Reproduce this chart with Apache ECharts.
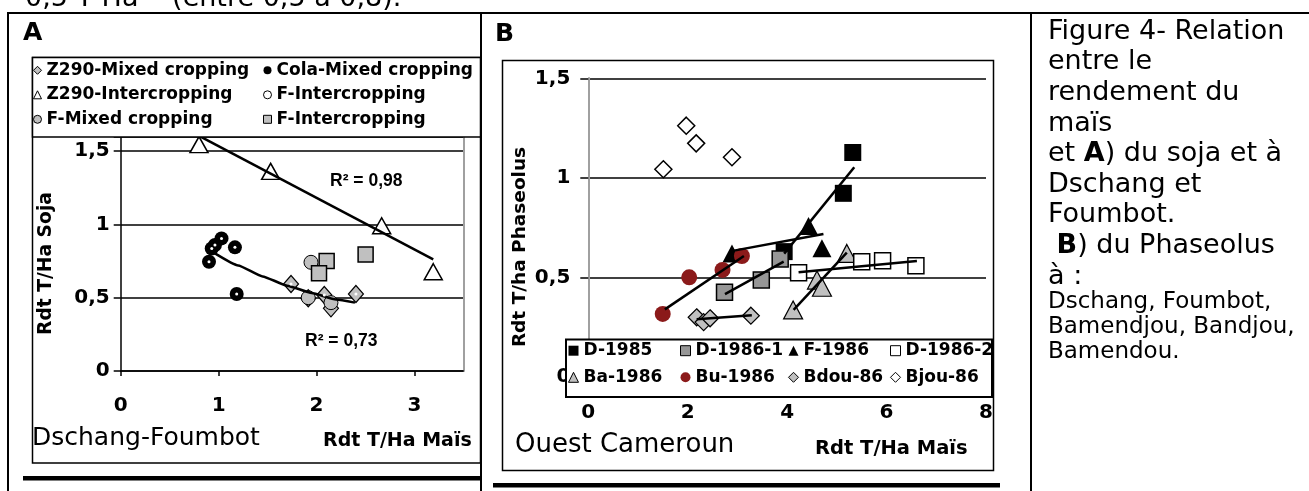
<!DOCTYPE html>
<html><head><meta charset="utf-8">
<script src="https://cdn.jsdelivr.net/npm/echarts@6/dist/echarts.min.js"></script>
<style>html,body{margin:0;padding:0;background:#fff;overflow:hidden}#c{width:1309px;height:491px}</style>
</head><body><div id="c"></div>
<script>
// ---------- Panel A data (Rdt T/Ha Maïs vs Rdt T/Ha Soja) ----------
const aZ290Mixed = [[1.74,0.593],[1.916,0.496],[2.08,0.518],[2.148,0.427],[2.403,0.525]];
const aColaMixed = [[0.902,0.745],[0.93,0.835],[0.963,0.859],[1.03,0.904],[1.167,0.843],[1.185,0.525]];
const aZ290Inter = [[0.80,1.543],[1.532,1.361],[2.666,0.99],[3.193,0.677]];
const aFInterDots = [[0.902,0.745],[0.93,0.835],[0.963,0.859],[1.03,0.904],[1.167,0.843],[1.185,0.525],[1.74,0.593],[2.08,0.518],[2.403,0.525]];
const aFMixed = [[1.944,0.741],[1.916,0.5],[2.148,0.466]];
const aFInterSq = [[2.104,0.75],[2.026,0.666],[2.502,0.795]];
const aTrendInter = [[0.81,1.60],[3.193,0.761]];
const aTrendMixed = [[0.963,0.802],[1.2,0.72],[1.45,0.645],[1.7,0.582],[1.95,0.532],[2.2,0.488],[2.393,0.466]];
const aXTicks = [0,1,2,3];
const aR2 = ['R² = 0,98','R² = 0,73'];

// ---------- Panel B data (Rdt T/Ha Maïs vs Rdt T/ha Phaseolus) ----------
const bD1985  = [[5.32,1.127],[5.13,0.922],[3.94,0.629]];
const bD19861 = [[2.74,0.425],[3.48,0.487],[3.86,0.592]];
const bF1986  = [[2.89,0.62],[4.43,0.758],[4.70,0.646]];
const bD19862 = [[4.23,0.523],[5.50,0.578],[5.92,0.583],[6.59,0.558]];
const bBa1986 = [[4.12,0.336],[4.60,0.486],[4.70,0.45],[5.20,0.62]];
const bBu1986 = [[1.497,0.316],[2.03,0.5],[2.70,0.537],[3.09,0.607]];
const bBdou86 = [[2.18,0.299],[2.32,0.275],[2.45,0.294],[3.27,0.307]];
const bBjou86 = [[1.51,1.043],[1.97,1.262],[2.17,1.173],[2.89,1.103]];
const bTrD1985  = [[3.94,0.619],[5.35,1.053]];
const bTrF1986  = [[2.93,0.634],[4.73,0.718]];
const bTrBu1986 = [[1.54,0.339],[3.13,0.607]];
const bTrD19861 = [[2.75,0.415],[3.93,0.579]];
const bTrD19862 = [[4.23,0.525],[6.61,0.582]];
const bTrBa1986 = [[4.13,0.336],[5.20,0.624]];
const bTrBdou86 = [[2.18,0.289],[3.29,0.309]];

// ---------- Caption ----------
const captionBig = ['Figure 4- Relation','entre le','rendement du','maïs','et {b|A}) du soja et à','Dschang et','Foumbot.',' {b|B}) du Phaseolus','à :'];
const captionSmall = ['Dschang, Foumbot,','Bamendjou, Bandjou,','Bamendou.'];
const topText = '0,5 T Ha⁻¹ (entre 0,5 à 0,8).';

const FONT = 'DejaVu Sans';
const comma = v => String(v).replace('.', ',');
const chart = echarts.init(document.getElementById('c'), null, {renderer:'canvas', width:1309, height:491});

const axLabel = (extra) => Object.assign({color:'#000', fontFamily:FONT, fontWeight:'bold', fontSize:20}, extra);
const blackLine = {show:true, lineStyle:{color:'#000', width:1.5}};
const grayBorder = {show:true, lineStyle:{color:'#a0a0a0', width:2}};
const off = {show:false};

function sc(name, data, xi, yi, symbol, size, style) {
  return {name, type:'scatter', data, xAxisIndex:xi, yAxisIndex:yi, symbol, symbolSize:size,
    itemStyle:Object.assign({opacity:1}, style), z:2, clip:false, silent:true};
}
function ln(data, xi, yi, smooth) {
  return {type:'line', data, xAxisIndex:xi, yAxisIndex:yi, symbol:'none', smooth:smooth||false,
    smoothMonotone:'x', lineStyle:{color:'#000', width:2.5, opacity:1}, z:3, clip:false, silent:true};
}
const bd = (c, w) => ({color:c, borderColor:'#000', borderWidth:w, opacity:1});

const legendText = {fontFamily:FONT, fontWeight:'bold', fontSize:17, color:'#000', lineHeight:20};
function lg(data, left, top, gap, iw) {
  return {data, left, top, orient:'vertical', itemWidth:iw, itemHeight:iw, itemGap:gap, padding:0,
    selectedMode:false, textStyle:legendText, z:6};
}

function txt(text, x, y, font, extra) {
  return Object.assign({type:'text', x, y, z:10, silent:true,
    style:Object.assign({text, font, fill:'#000', align:'left', verticalAlign:'middle'}, extra && extra.style)},
    extra && extra.el);
}
function rect(x, y, w, h, fill, stroke, lw, z) {
  return {type:'rect', shape:{x, y, width:w, height:h}, style:{fill, stroke, lineWidth:lw}, z, silent:true};
}

const graphic = [
  // table lines
  rect(8,12,1301,2,'#000',null,0,1),
  rect(7,12,2,479,'#000',null,0,1),
  rect(480,12,2,479,'#000',null,0,1),
  rect(1030,12,2,479,'#000',null,0,1),
  rect(23,476,458,4.5,'#000',null,0,1),
  rect(493,483,507,4.5,'#000',null,0,1),
  // chart boxes
  rect(32.5,57.5,448,405.5,'none','#000',1.5,1),
  rect(502.5,60.5,491,410,'none','#000',1.5,1),
  // legend boxes
  rect(32.5,57.5,448,79.5,'#fff','#000',1.5,5),
  rect(566,339.5,426,57.5,'#fff','#000',2,5),
  // labels
  txt(topText, 25, -1, '27px ' + FONT),
  txt('A', 23, 33, 'bold 25px ' + FONT),
  txt('B', 495, 34, 'bold 25px ' + FONT),
  txt('Dschang-Foumbot', 32, 438, '25px ' + FONT),
  txt('Rdt T/Ha Maïs', 323, 441, 'bold 19px ' + FONT),
  txt('Rdt T/Ha Soja', 46, 263.5, 'bold 18.7px ' + FONT, {style:{align:'center'}, el:{rotation:Math.PI/2}}),
  txt(aR2[0], 330, 181, 'bold 17.5px "Liberation Sans"'),
  txt(aR2[1], 305, 341, 'bold 17.5px "Liberation Sans"'),
  txt('Ouest Cameroun', 515, 445, '26px ' + FONT),
  txt('Rdt T/Ha Maïs', 815, 449, 'bold 19.5px ' + FONT),
  txt('Rdt T/ha Phaseolus', 520, 247, 'bold 18.5px ' + FONT, {style:{align:'center'}, el:{rotation:Math.PI/2}})
];
captionBig.forEach((t, i) => {
  graphic.push(txt(t, 1048, 31.7 + 30.6 * i, '27px ' + FONT,
    {style:{rich:{b:{fontFamily:FONT, fontSize:27, fontWeight:'bold', fill:'#000'}}}}));
});
captionSmall.forEach((t, i) => {
  graphic.push(txt(t, 1048, 302 + 25 * i, '23px ' + FONT));
});

const option = {
  animation:false,
  backgroundColor:'#fff',
  grid:[
    {left:120.7, top:136.3, width:342.6, height:234.7, outerBoundsMode:'none', containLabel:false},
    {left:588.3, top:78.3, width:397.7, height:298.5, outerBoundsMode:'none', containLabel:false}
  ],
  xAxis:[
    {type:'value', gridIndex:0, min:0, max:3.5, interval:1, axisLine:blackLine,
      axisTick:{show:true, length:5, lineStyle:{color:'#000', width:1.5}, customValues:aXTicks},
      axisLabel:axLabel({margin:25, customValues:aXTicks, formatter:comma}), splitLine:off},
    {type:'value', gridIndex:1, min:0, max:8, interval:2, axisLine:blackLine, axisTick:off,
      axisLabel:axLabel({margin:26, formatter:comma}), splitLine:off},
    {type:'value', gridIndex:1, position:'top', min:0, max:8, axisLine:grayBorder, axisTick:off,
      axisLabel:off, splitLine:off, z:1}
  ],
  yAxis:[
    {type:'value', gridIndex:0, min:0, max:1.6, interval:0.5, axisLine:blackLine,
      axisTick:{show:true, length:7, lineStyle:{color:'#000', width:1.5}},
      axisLabel:axLabel({margin:11, formatter:v => v > 1.55 ? '' : comma(v)}),
      splitLine:{show:true, lineStyle:{color:'#000', width:1.5}}},
    {type:'value', gridIndex:0, position:'right', min:0, max:1.6, axisLine:grayBorder,
      axisTick:off, axisLabel:off, splitLine:off},
    {type:'value', gridIndex:1, min:0, max:1.5, interval:0.5, axisLine:blackLine,
      axisTick:{show:true, length:8, lineStyle:{color:'#000', width:1.5}},
      axisLabel:axLabel({margin:18, formatter:comma}),
      splitLine:{show:true, lineStyle:{color:'#000', width:1.5}}},
    {type:'value', gridIndex:1, position:'right', min:0, max:1.5, axisLine:grayBorder,
      axisTick:off, axisLabel:off, splitLine:off}
  ],
  legend:[
    lg([
      {name:'Z290-Mixed cropping', icon:'diamond', itemStyle:bd('#c0c0c0',1)},
      {name:'Z290-Intercropping', icon:'triangle', itemStyle:bd('#fff',1)},
      {name:'F-Mixed cropping', icon:'circle', itemStyle:bd('#c0c0c0',1)}
    ], 33, 60.3, 4.5, 8),
    lg([
      {name:'Cola-Mixed cropping', icon:'circle', itemStyle:{color:'#000', borderWidth:0, opacity:1}},
      {name:'F-Intercropping', icon:'circle', itemStyle:bd('#fff',1)},
      {name:'F-Intercropping ', icon:'rect', itemStyle:bd('#c0c0c0',1)}
    ], 263, 60.3, 4.5, 8),
    lg([
      {name:'D-1985', icon:'rect', itemStyle:{color:'#000', borderWidth:0, opacity:1}},
      {name:'Ba-1986', icon:'triangle', itemStyle:bd('#c0c0c0',1)}
    ], 568, 340.7, 6.6, 10),
    lg([
      {name:'D-1986-1', icon:'rect', itemStyle:bd('#969696',1)},
      {name:'Bu-1986', icon:'circle', itemStyle:{color:'#8b1a1a', borderWidth:0, opacity:1}}
    ], 680, 340.7, 6.6, 10),
    lg([
      {name:'F-1986', icon:'triangle', itemStyle:{color:'#000', borderWidth:0, opacity:1}},
      {name:'Bdou-86', icon:'diamond', itemStyle:bd('#c0c0c0',1)}
    ], 788, 340.7, 6.6, 10),
    lg([
      {name:'D-1986-2', icon:'rect', itemStyle:bd('#fff',1)},
      {name:'Bjou-86', icon:'diamond', itemStyle:bd('#fff',1)}
    ], 890, 340.7, 6.6, 10)
  ],
  graphic:graphic,
  series:[
    // Panel A
    sc('Z290-Mixed cropping', aZ290Mixed, 0, 0, 'diamond', [15,17], bd('#c0c0c0',1.2)),
    sc('Cola-Mixed cropping', aColaMixed, 0, 0, 'circle', 14, {color:'#000'}),
    sc('Z290-Intercropping', aZ290Inter, 0, 0, 'triangle', [18,16], bd('#fff',1.5)),
    sc('F-Mixed cropping', aFMixed, 0, 0, 'circle', 14, bd('#c0c0c0',1)),
    sc('F-Intercropping ', aFInterSq, 0, 0, 'rect', 15, bd('#c0c0c0',1.5)),
    ln(aTrendInter, 0, 0),
    ln(aTrendMixed, 0, 0, 0.15),
    Object.assign(sc('F-Intercropping', aFInterDots, 0, 0, 'circle', 3, {color:'#fff'}), {z:4}),
    // Panel B
    sc('Bjou-86', bBjou86, 1, 2, 'diamond', 17, bd('#fff',1.5)),
    sc('Bdou-86', bBdou86, 1, 2, 'diamond', 17, bd('#c0c0c0',1.2)),
    sc('F-1986', bF1986, 1, 2, 'triangle', [19,18], {color:'#000'}),
    sc('Bu-1986', bBu1986, 1, 2, 'circle', 16, {color:'#8b1a1a'}),
    sc('D-1985', bD1985, 1, 2, 'rect', 17, {color:'#000'}),
    sc('D-1986-1', bD19861, 1, 2, 'rect', 16, bd('#969696',1.5)),
    sc('Ba-1986', bBa1986, 1, 2, 'triangle', [19,18], bd('#c0c0c0',1.2)),
    sc('D-1986-2', bD19862, 1, 2, 'rect', 16, bd('#fff',1.5)),
    ln(bTrD1985, 1, 2), ln(bTrF1986, 1, 2), ln(bTrBu1986, 1, 2), ln(bTrD19861, 1, 2),
    ln(bTrD19862, 1, 2), ln(bTrBa1986, 1, 2), ln(bTrBdou86, 1, 2)
  ]
};
chart.setOption(option);
</script></body></html>
